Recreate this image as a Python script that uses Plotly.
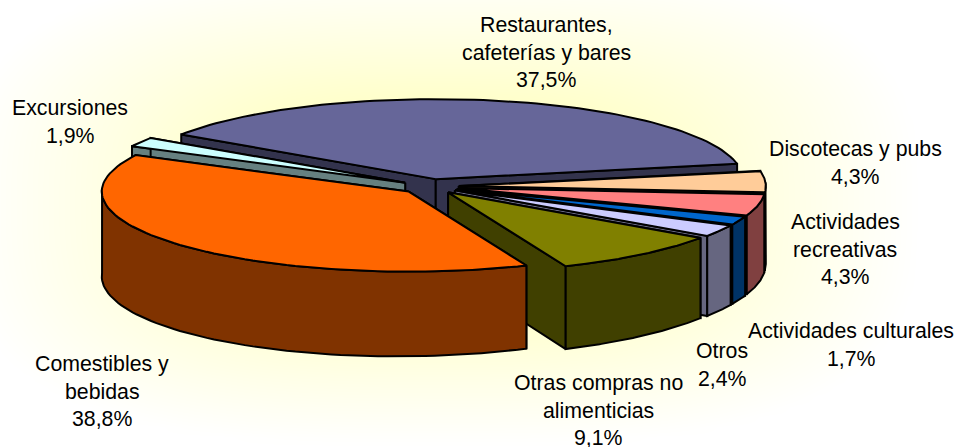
import numpy as np
import plotly.graph_objects as go

# ---- data ----
categories = ["Restaurantes, cafeterías y bares", "Discotecas y pubs", "Actividades recreativas",
              "Actividades culturales", "Otros", "Otras compras no alimenticias",
              "Comestibles y bebidas", "Excursiones"]
values = [37.5, 4.3, 4.3, 1.7, 2.4, 9.1, 38.8, 1.9]
value_labels = ["37,5%", "4,3%", "4,3%", "1,7%", "2,4%", "9,1%", "38,8%", "1,9%"]
label_lines = [["Restaurantes,", "cafeterías y bares"], ["Discotecas y pubs"], ["Actividades", "recreativas"],
               ["Actividades culturales"], ["Otros"], ["Otras compras no", "alimenticias"],
               ["Comestibles y", "bebidas"], ["Excursiones"]]
top_colors = ["#666699", "#FFCC99", "#FF8080", "#0066CC", "#CCCCFF", "#808000", "#FF6600", "#CCFFFF"]
side_colors = ["#33334D", "#80664D", "#804040", "#003366", "#666680", "#404000", "#803300", "#668080"]

# ---- layout / style ----
W, H = 958, 447
label_anchor = [(546, 25), (855, 149), (845, 222), (851, 331), (722, 351), (598, 383), (102, 364), (70, 108)]
LINE_STEP = 27.6
CX, CY, RX, RY, DEPTH, PERSP, SKEW = 430, 186.5, 307, 80, 81, 0.04, 0.04
EXPLODE = 0.094
START = -56.0
draw_order = [0, 7, 1, 2, 3, 4, 5, 6]


def project(u, v, down=0.0):
    u, v = np.asarray(u), np.asarray(v)
    return CX + RX * u, CY - RY * v + down * (1 - PERSP * v - SKEW * u)


def face(xs, ys, color):
    xs = list(xs) + [xs[0]]
    ys = list(ys) + [ys[0]]
    return go.Scatter(x=xs, y=ys, mode="lines", fill="toself", fillcolor=color,
                      line=dict(color="black", width=2), hoverinfo="skip", showlegend=False)


fig = go.Figure()

# soft yellow glow behind the pie
gx = np.linspace(0, W, 97)
gy = np.linspace(0, H, 46)
GX, GY = np.meshgrid(gx, gy)
P = 3.0
dist = (np.abs((GX - 440) / 480) ** P + np.abs((GY - 205) / 240) ** P) ** (1 / P)
fig.add_trace(go.Heatmap(x=gx, y=gy, z=np.clip(1 - dist, 0, 1), zmin=0, zmax=1, zsmooth="best",
                         colorscale=[[0, "#FFFFFF"], [0.3, "#FFFFE4"], [0.55, "#FFFFCC"], [1, "#FFFFCC"]],
                         showscale=False, hoverinfo="skip"))

edges = START + np.concatenate([[0], np.cumsum(values)]) * 360 / sum(values)
for i in draw_order:
    a0, a1 = edges[i], edges[i + 1]
    mid = np.radians((a0 + a1) / 2)
    tu, tv = EXPLODE * np.sin(mid), EXPLODE * np.cos(mid)
    th = np.radians(np.linspace(a0, a1, 80))
    ru, rv = tu + np.sin(th), tv + np.cos(th)
    # two cut faces
    for k in (0, -1):
        x0, y0 = project([tu, ru[k]], [tv, rv[k]])
        x1, y1 = project([tu, ru[k]], [tv, rv[k]], DEPTH)
        fig.add_trace(face([x0[0], x0[1], x1[1], x1[0]], [y0[0], y0[1], y1[1], y1[0]], side_colors[i]))
    # outer wall, only the part that faces the viewer
    front = np.cos(th) < 0.05
    if front.sum() > 1:
        xa, ya = project(ru[front], rv[front])
        xb, yb = project(ru[front], rv[front], DEPTH)
        fig.add_trace(face(np.concatenate([xa, xb[::-1]]), np.concatenate([ya, yb[::-1]]), side_colors[i]))
    # top
    xt, yt = project(np.concatenate([[tu], ru]), np.concatenate([[tv], rv]))
    fig.add_trace(face(xt, yt, top_colors[i]))

annotations = []
for lines, val, (ax, ay) in zip(label_lines, value_labels, label_anchor):
    for n, txt in enumerate(lines + [val]):
        annotations.append(dict(x=ax, y=ay + n * LINE_STEP, text=txt, showarrow=False, xanchor="center",
                                yanchor="middle", font=dict(family="Liberation Sans", size=21.3, color="black")))

fig.update_layout(
    width=W, height=H, margin=dict(l=0, r=0, t=0, b=0),
    paper_bgcolor="white", plot_bgcolor="white", annotations=annotations, showlegend=False,
    xaxis=dict(range=[0, W], visible=False, fixedrange=True),
    yaxis=dict(range=[H, 0], visible=False, fixedrange=True),
)
fig.write_html("out.html", config=dict(displayModeBar=False),
               post_script="document.body.style.margin='0';document.body.style.overflow='hidden';")
